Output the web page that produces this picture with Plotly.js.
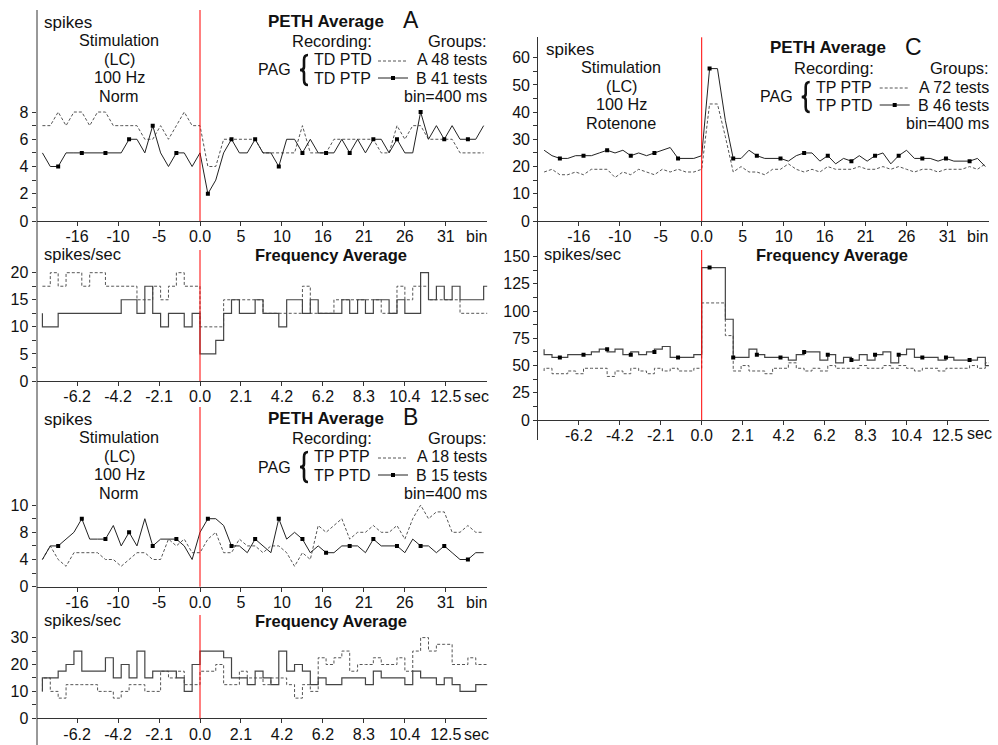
<!DOCTYPE html>
<html><head><meta charset="utf-8">
<script src="https://cdn.plot.ly/plotly-3.0.1.min.js"></script>
<style>html,body{margin:0;padding:0;background:#fff}#chart{width:998px;height:745px}</style>
</head><body><div id="chart"></div>
<script>
// ---------- DATA ----------
const BIN_FIRST = -20, BIN_LAST = 36;
const bins = []; for (let b = BIN_FIRST; b <= BIN_LAST; b++) bins.push(b);
const markerBins = [-18,-15,-12,-9,-6,-3,1,4,7,10,13,16,19,22,25,28,31,34];

const binTickVals = [-15.6,-10.4,-5.2,0,5.2,10.4,15.6,20.8,26,31.2];
const binTickText = ['-16','-10','-5','0.0','5','10','16','21','26','31'];
const secTickText = ['-6.2','-4.2','-2.1','0.0','2.1','4.2','6.2','8.3','10.4','12.5'];

// Panel A (Norm, TD)  PETH spikes per bin
const aPethA = [7,7,8,7,8,8,7,8,8,7,7,7,7,6,6,7,6,7,8,7,7,
  4,4,6,6,6,6,6,5,5,5,5,5,7,5,5,5,6,6,6,6,6,6,5,5,7,6,7,7,6,6,6,6,5,5,5,5];
const aPethB = [5,4,4,5,5,5,5,5,5,5,5,6,6,5,7,5,4,5,5,4,5,
  2,3,5,6,5,5,6,5,5,4,6,6,5,6,5,5,5,6,5,6,5,6,6,5,6,5,5,8,6,7,6,7,6,6,6,7];
// Panel A frequency (spikes/sec), one value per 400 ms bin
const aFreqAStart = 17.5;
const aFreqA = [17.5,20,17.5,20,20,17.5,20,20,17.5,17.5,17.5,17.5,15,15,17.5,15,17.5,20,17.5,17.5,
  10,10,10,15,15,15,15,15,12.5,12.5,12.5,12.5,12.5,17.5,12.5,12.5,12.5,15,15,15,15,15,15,12.5,12.5,17.5,15,17.5,17.5,15,15,15,15,12.5,12.5,12.5,12.5];
const aFreqBStart = 12.5;
const aFreqB = [10,10,12.5,12.5,12.5,12.5,12.5,12.5,12.5,12.5,15,15,12.5,17.5,12.5,10,12.5,12.5,10,12.5,
  5,5,7.5,12.5,15,12.5,12.5,15,12.5,12.5,10,15,15,12.5,15,12.5,12.5,12.5,15,12.5,15,12.5,15,15,12.5,15,12.5,12.5,20,15,17.5,15,17.5,15,15,15,17.5];

// Panel B (Norm, TP)
const bPethA = [4,6,4,3,5,5,5,5,4,4,3,4,5,5,4,4,7,6,7,5,5,
  7,8,5,5,7,6,6,5,6,6,5,3,5,4,9,8,9,10,7,8,8,9,8,8,9,7,10,12,10,11,11,8,8,9,8,8];
const bPethB = [4,6,6,7,8,10,7,7,7,9,6,8,6,10,6,7,7,7,6,4,8,
  10,10,9,6,6,5,7,6,5,10,7,8,7,5,6,5,5,6,6,6,5,7,6,6,6,5,7,6,6,5,6,5,4,4,5,5];
const bFreqAStart = 10;
const bFreqA = [15,10,7.5,12.5,12.5,12.5,12.5,10,10,7.5,10,12.5,12.5,10,10,17.5,15,17.5,12.5,12.5,
  17.5,17.5,20,12.5,12.5,17.5,15,15,12.5,15,15,12.5,7.5,12.5,10,22.5,20,22.5,25,17.5,20,20,22.5,20,20,22.5,17.5,25,30,25,27.5,27.5,20,20,22.5,20,20];
const bFreqBStart = 10;
const bFreqB = [15,15,17.5,20,25,17.5,17.5,17.5,22.5,15,20,15,25,15,17.5,17.5,17.5,15,10,20,
  25,25,25,22.5,15,15,12.5,17.5,15,12.5,25,17.5,20,17.5,12.5,15,12.5,12.5,15,15,15,12.5,17.5,15,15,15,12.5,17.5,15,15,12.5,15,12.5,10,10,12.5,12.5];

// Panel C (Rotenone, TP)
const cPethA = [18,19,17,17,18,17,19,19,19,16,18,17,19,18,17,19,18,19,18,18,19,
  43,43,31,18,20,18,18,17,19,19,21,19,18,19,18,20,19,19,19,20,19,19,20,19,20,19,18,19,19,18,19,19,19,20,19,21];
const cPethB = [26,24,23,23,24,24,24,25,26,25,26,24,25,24,25,26,27,23,23,23,24,
  56,56,37,23,23,26,24,23,23,23,22,24,25,25,22,24,21,23,22,24,22,24,25,21,24,26,23,23,23,22,23,22,22,22,23,20];
const cFreqAStart = 45;
const cFreqA = [47.5,42.5,42.5,45,42.5,47.5,47.5,47.5,40,45,42.5,47.5,45,42.5,47.5,45,47.5,45,45,47.5,
  107.5,107.5,107.5,77.5,45,50,45,45,42.5,47.5,47.5,52.5,47.5,45,47.5,45,50,47.5,47.5,47.5,50,47.5,47.5,50,47.5,50,47.5,45,47.5,47.5,45,47.5,47.5,47.5,50,47.5,52.5];
const cFreqBStart = 65;
const cFreqB = [60,57.5,57.5,60,60,60,62.5,65,62.5,65,60,62.5,60,62.5,65,67.5,57.5,57.5,57.5,60,
  140,140,140,92.5,57.5,57.5,65,60,57.5,57.5,57.5,55,60,62.5,62.5,55,60,52.5,57.5,55,60,55,60,62.5,52.5,60,65,57.5,57.5,57.5,55,57.5,55,55,55,57.5,50];
const cFreqMarkerVals = [57.5,60,65,60,62.5,57.5,140,57.5,60,57.5,62.5,60,55,60,60,57.5,57.5,55];

// ---------- DRAWING ----------
const W = 998, H = 745;
const fx = x => x / W, fy = y => 1 - y / H;
const FONT = 'Liberation Sans, Arial, sans-serif';
const INK = '#111';
const XR = [-20.75, 36.45];

const dashedLine = {color:'#555', width:1, dash:'3px,2px'};
const solidLine = {color:'#222', width:1};

function pethTraces(xa, ya, A, B) {
  const mk = markerBins.map(b => B[b - BIN_FIRST]);
  return [
    {x: bins, y: A, xaxis: xa, yaxis: ya, mode:'lines', line: dashedLine, hoverinfo:'skip'},
    {x: bins, y: B, xaxis: xa, yaxis: ya, mode:'lines', line: solidLine, hoverinfo:'skip'},
    {x: markerBins, y: mk, xaxis: xa, yaxis: ya, mode:'markers',
     marker:{symbol:'square', size:4, color:'#000'}, hoverinfo:'skip'}
  ];
}
function stepXY(start, vals) {
  const x = [BIN_FIRST].concat(bins, [BIN_LAST + 1]);
  const y = [start].concat(vals, [vals[vals.length - 1]]);
  return {x, y};
}
function freqTraces(xa, ya, startA, A, startB, B, markerVals) {
  const sa = stepXY(startA, A), sb = stepXY(startB, B);
  const t = [
    {x: sa.x, y: sa.y, xaxis: xa, yaxis: ya, mode:'lines', line: Object.assign({shape:'hv'}, dashedLine), hoverinfo:'skip'},
    {x: sb.x, y: sb.y, xaxis: xa, yaxis: ya, mode:'lines', line: {color:'#444', width:1.2, shape:'hv'}, hoverinfo:'skip'}
  ];
  if (markerVals) t.push({x: markerBins, y: markerVals, xaxis: xa, yaxis: ya, mode:'markers',
     marker:{symbol:'square', size:4, color:'#000'}, hoverinfo:'skip'});
  return t;
}

const data = [].concat(
  pethTraces('x', 'y', aPethA, aPethB),
  freqTraces('x2', 'y2', aFreqAStart, aFreqA, aFreqBStart, aFreqB, null),
  pethTraces('x3', 'y3', bPethA, bPethB),
  freqTraces('x4', 'y4', bFreqAStart, bFreqA, bFreqBStart, bFreqB, null),
  pethTraces('x5', 'y5', cPethA, cPethB),
  freqTraces('x6', 'y6', cFreqAStart, cFreqA, cFreqBStart, cFreqB, cFreqMarkerVals)
);

function xax(dom, anchor, text) {
  return {domain: dom, anchor: anchor, range: XR, showline: true, linecolor:'#333', linewidth:1,
    ticks:'outside', ticklen:4, tickcolor:'#333', tickvals: binTickVals, ticktext: text,
    ticklabelstandoff: -3,
    tickfont:{family: FONT, size:16, color: INK}, showgrid:false, zeroline:false, fixedrange:true};
}
function yax(dom, anchor, max, vals, text) {
  return {domain: dom, anchor: anchor, range:[0, max], showline:false,
    ticks:'outside', ticklen:4, tickcolor:'#333', tickvals: vals, ticktext: text,
    tickfont:{family: FONT, size:16, color: INK}, showgrid:false, zeroline:false, fixedrange:true};
}
const xAB = [fx(36.5), fx(487.2)], xCd = [fx(538.2), fx(988.9)];

const layout = {
  width: W, height: H, margin:{l:0, r:0, t:0, b:0}, showlegend:false,
  paper_bgcolor:'#fff', plot_bgcolor:'rgba(0,0,0,0)', font:{family: FONT, color: INK},
  xaxis: xax(xAB, 'y', binTickText),
  yaxis: yax([fy(221), fy(10)], 'x', 15.49, [0,1,2,3,4,5,6,7,8], ['0','','2','','4','','6','','8']),
  xaxis2: xax(xAB, 'y2', secTickText),
  yaxis2: yax([fy(381), fy(250)], 'x2', 24.19, [0,2.5,5,7.5,10,12.5,15,17.5,20], ['0','','5','','10','','15','','20']),
  xaxis3: xax(xAB, 'y3', binTickText),
  yaxis3: yax([fy(586.7), fy(407)], 'x3', 26.43, [0,2,4,6,8,10,12], ['0','','4','','8','','10']),
  xaxis4: xax(xAB, 'y4', secTickText),
  yaxis4: yax([fy(718.3), fy(615)], 'x4', 38.4, [0,5,10,15,20,25,30], ['0','','10','','20','','30']),
  xaxis5: xax(xCd, 'y5', binTickText),
  yaxis5: yax([fy(221), fy(37.3)], 'x5', 67.5, [0,5,10,15,20,25,30,35,40,45,50,55,60], ['0','','10','','20','','30','','40','','50','','60']),
  xaxis6: xax(xCd, 'y6', secTickText),
  yaxis6: yax([fy(420), fy(250)], 'x6', 156.1, [0,12.5,25,37.5,50,62.5,75,87.5,100,112.5,125,137.5,150], ['0','','25','','50','','75','','100','','125','','150']),
  shapes: [], annotations: []
};

// red stimulus lines
['', '2', '3', '4', '5', '6'].forEach(s => {
  layout.shapes.push({type:'line', xref:'x' + s, yref:'y' + s + ' domain', x0:0, x1:0, y0:0, y1:1,
    line:{color:'#ff0000', width:1}});
});
// long left axis lines
layout.shapes.push({type:'line', xref:'paper', yref:'paper', x0:fx(37), x1:fx(37), y0:fy(10), y1:fy(745), line:{color:'#333', width:1}});
layout.shapes.push({type:'line', xref:'paper', yref:'paper', x0:fx(537.5), x1:fx(537.5), y0:fy(37), y1:fy(440), line:{color:'#333', width:1}});

function txt(x, y, t, opt) {
  opt = opt || {};
  layout.annotations.push({xref:'paper', yref:'paper', x: fx(x), y: fy(y), text: t, showarrow:false,
    xanchor: opt.xa || 'left', yanchor:'middle', borderpad:0,
    font:{family: FONT, size: opt.size || 17, color: INK, weight: opt.bold ? 'bold' : 'normal'}});
}
function P(x, y) { return fx(x).toFixed(5) + ',' + fy(y).toFixed(5); }
function brace(cx, top, bot) {
  const mid = (top + bot) / 2;
  const d = 'M' + P(cx + 4, top) + ' Q' + P(cx, top) + ' ' + P(cx, top + 5) +
            ' L' + P(cx, mid - 3) + ' Q' + P(cx, mid) + ' ' + P(cx - 4, mid) +
            ' Q' + P(cx, mid) + ' ' + P(cx, mid + 3) +
            ' L' + P(cx, bot - 5) + ' Q' + P(cx, bot) + ' ' + P(cx + 4, bot);
  layout.shapes.push({type:'path', xref:'paper', yref:'paper', path: d, line:{color:'#111', width:2.6}});
}
function panelText(ox, oy, letter, treat, recs, groups, stimCx) {
  // ox = red-line pixel x, oy = vertical offset of the panel
  txt(ox - 157, oy + 22, 'spikes');
  const sx = stimCx, st = {xa:'center', size:16.2};
  txt(sx, oy + 40, 'Stimulation', st);
  txt(sx, oy + 58.5, '(LC)', st);
  txt(sx, oy + 77, '100 Hz', st);
  txt(sx, oy + 95.5, treat, st);
  txt(ox + 67, oy + 21, 'PETH Average', {bold:true});
  txt(ox + 202, oy + 20, letter, {size:23});
  const lg = {size:16};
  txt(ox + 132, oy + 41, 'Recording:', {xa:'center', size:16.5});
  txt(ox + 288, oy + 41, 'Groups:', {xa:'right', size:16.5});
  txt(ox + 57, oy + 70, 'PAG', lg);
  brace(ox + 104, oy + 55, oy + 85);
  txt(ox + 113, oy + 60, recs[0], lg);
  txt(ox + 113, oy + 78, recs[1], lg);
  txt(ox + 288, oy + 60, groups[0], {xa:'right', size:16});
  txt(ox + 288, oy + 78, groups[1], {xa:'right', size:16});
  txt(ox + 288, oy + 96.5, 'bin=400 ms', {xa:'right', size:16});
  layout.shapes.push({type:'line', xref:'paper', yref:'paper', x0:fx(ox + 178), x1:fx(ox + 208), y0:fy(oy + 61), y1:fy(oy + 61), line:dashedLine});
  layout.shapes.push({type:'line', xref:'paper', yref:'paper', x0:fx(ox + 178), x1:fx(ox + 208), y0:fy(oy + 78), y1:fy(oy + 78), line:solidLine});
  layout.shapes.push({type:'rect', xref:'paper', yref:'paper', x0:fx(ox + 191), x1:fx(ox + 195), y0:fy(oy + 76), y1:fy(oy + 80), line:{width:0}, fillcolor:'#000'});
}
panelText(200, 0, 'A', 'Norm', ['TD PTD', 'TD PTP'], ['A 48 tests', 'B 41 tests'], 119);
panelText(200, 397, 'B', 'Norm', ['TP PTP', 'TP PTD'], ['A 18 tests', 'B 15 tests'], 119);
panelText(701.7, 27, 'C', 'Rotenone', ['TP PTP', 'TP PTD'], ['A 72 tests', 'B 46 tests'], 621);

// frequency headers and axis unit labels
txt(43, 254, 'spikes/sec', {size:16.5}); txt(331, 255, 'Frequency Average', {xa:'center', bold:true, size:16.5});
txt(43, 620, 'spikes/sec', {size:16.5}); txt(331, 621, 'Frequency Average', {xa:'center', bold:true, size:16.5});
txt(543, 254, 'spikes/sec', {size:16.5}); txt(832, 255, 'Frequency Average', {xa:'center', bold:true, size:16.5});
txt(488, 236, 'bin', {xa:'right', size:16}); txt(490, 396, 'sec', {xa:'right', size:16});
txt(488, 602, 'bin', {xa:'right', size:16}); txt(490, 734, 'sec', {xa:'right', size:16});
txt(989, 236, 'bin', {xa:'right', size:16}); txt(993, 434, 'sec', {xa:'right', size:16});

Plotly.newPlot('chart', data, layout, {staticPlot:true, displayModeBar:false});
</script></body></html>
